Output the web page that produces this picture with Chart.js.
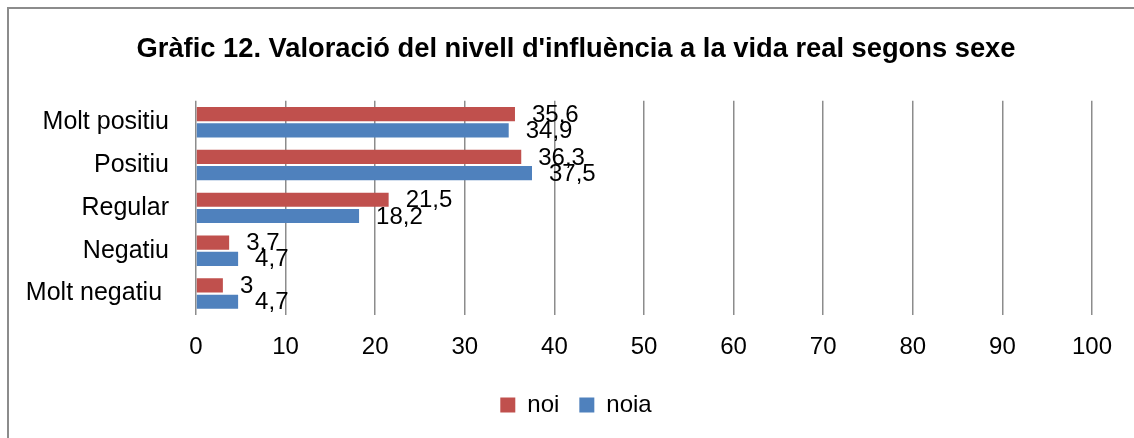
<!DOCTYPE html>
<html>
<head>
<meta charset="utf-8">
<title>Gràfic 12</title>
<script src="https://cdn.jsdelivr.net/npm/chart.js@4.4.1/dist/chart.umd.min.js"></script>
<style>
    html, body { margin: 0; padding: 0; background: #fff; }
    #wrap { position: relative; width: 1134px; height: 438px; }
</style>
</head>
<body>
<div id="wrap"><canvas id="chart" width="1134" height="438"></canvas></div>
<script>
// ===================== Data =====================
const categories = ['Molt positiu', 'Positiu', 'Regular', 'Negatiu', 'Molt negatiu '];
const noiValues = [35.6, 36.3, 21.5, 3.7, 3];
const noiaValues = [34.9, 37.5, 18.2, 4.7, 4.7];
const xTicks = [0, 10, 20, 30, 40, 50, 60, 70, 80, 90, 100];
const chartTitle = "Gràfic 12. Valoració del nivell d'influència a la vida real segons sexe";

// ===================== Styles =====================
const RED = '#C0504D';
const BLUE = '#4F81BD';
const GRID = '#8c8c8c';
const TEXT_FONT = "'Liberation Sans', Arial, sans-serif";

// frame: only top and left edges show in the reference
const framePlugin = {
    id: 'frame',
    beforeDraw(chart) {
        const ctx = chart.ctx;
        ctx.save();
        ctx.strokeStyle = '#8c8c8c';
        ctx.lineWidth = 2;
        ctx.beginPath();
        ctx.moveTo(8, chart.height);
        ctx.lineTo(8, 8);
        ctx.lineTo(chart.width, 8);
        ctx.stroke();
        ctx.restore();
    }
};

// value labels at the end of each bar
const valueLabels = {
    id: 'valueLabels',
    afterDatasetsDraw(chart) {
        const ctx = chart.ctx;
        ctx.save();
        ctx.font = `24px ${TEXT_FONT}`;
        ctx.fillStyle = '#000';
        ctx.textAlign = 'left';
        ctx.textBaseline = 'middle';
        chart.data.datasets.forEach((ds, di) => {
            chart.getDatasetMeta(di).data.forEach((bar, i) => {
                const txt = String(ds.data[i]).replace('.', ',');
                ctx.fillText(txt, bar.x + 17, bar.y + 1);
            });
        });
        ctx.restore();
    }
};

function setupChart() {
    new Chart(document.getElementById('chart').getContext('2d'), {
        type: 'bar',
        data: {
            labels: categories,
            datasets: [
                { label: 'noi', data: noiValues, backgroundColor: RED },
                { label: 'noia', data: noiaValues, backgroundColor: BLUE }
            ]
        },
        options: {
            indexAxis: 'y',
            responsive: false,
            animation: false,
            devicePixelRatio: 1,
            categoryPercentage: 0.76,
            barPercentage: 0.87,
            // small left padding keeps title and legend centred like the original
            layout: { padding: { left: 18, right: 0, top: 0, bottom: 11 } },
            scales: {
                x: {
                    min: 0,
                    max: 100,
                    afterBuildTicks: (scale) => { scale.ticks = xTicks.map(v => ({ value: v })); },
                    afterFit: (scale) => { scale.height = 58; },
                    grid: { color: GRID, lineWidth: 1.5, drawTicks: false },
                    border: { display: false },
                    ticks: { color: '#000', padding: 18, font: { family: TEXT_FONT, size: 24 } }
                },
                y: {
                    afterFit: (scale) => { scale.width = 178; },
                    grid: { display: false, drawTicks: false },
                    border: { display: false },
                    ticks: { color: '#000', padding: 27, font: { family: TEXT_FONT, size: 25 } }
                },
                // empty right-hand spacer so the plot ends at 100 like the original
                spacer: {
                    axis: 'y',
                    position: 'right',
                    afterFit: (scale) => { scale.width = 42; },
                    grid: { display: false, drawTicks: false },
                    border: { display: false },
                    ticks: { display: false }
                }
            },
            plugins: {
                title: {
                    display: true,
                    text: chartTitle,
                    color: '#000',
                    font: { family: TEXT_FONT, size: 27.3, weight: 'bold' },
                    padding: { top: 33, bottom: 35 }
                },
                legend: {
                    position: 'bottom',
                    labels: {
                        color: '#000',
                        boxWidth: 15,
                        boxHeight: 15,
                        padding: 20,
                        font: { family: TEXT_FONT, size: 24 }
                    }
                },
                tooltip: { enabled: false }
            }
        },
        plugins: [framePlugin, valueLabels]
    });
}

document.addEventListener('DOMContentLoaded', setupChart);
</script>
</body>
</html>
